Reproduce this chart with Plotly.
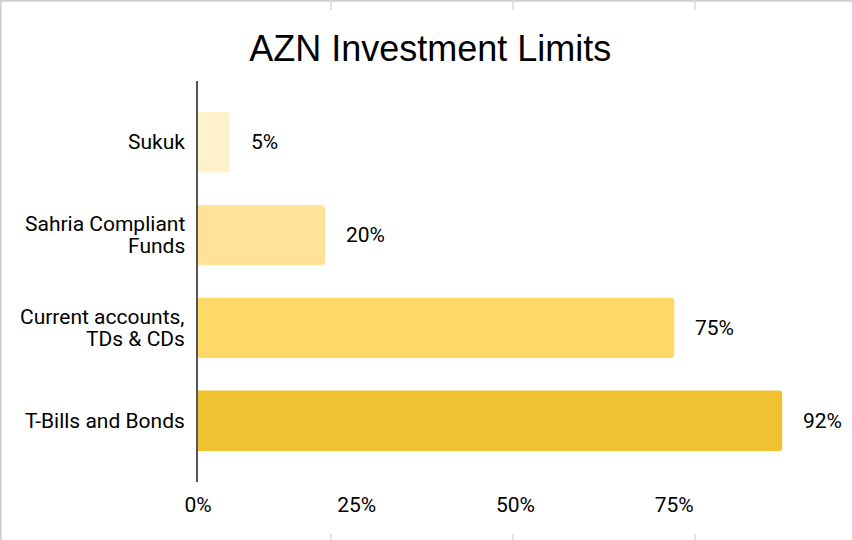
import plotly.graph_objects as go

categories = ["Sukuk", "Sahria Compliant<br>Funds", "Current accounts,<br>TDs & CDs", "T-Bills and Bonds"]
values = [5, 20, 75, 92]
labels = ["5%", "20%", "75%", "92%"]
colors = ["#FEF1CB", "#FFE498", "#FFD966", "#F0C232"]
tick_vals = [0, 25, 50, 75]
tick_text = ["0%", "25%", "50%", "75%"]

L, R, T, B = 198, 19, 81, 58
W, H = 852, 540
pw, ph = W - L - R, H - T - B
FS = 21
LINE_GAP = 22

fig = go.Figure()
fig.add_trace(go.Bar(
    y=categories, x=values, orientation="h",
    marker=dict(color=colors, line=dict(width=0), cornerradius=3),
    width=0.65, hoverinfo="skip", showlegend=False,
))

for c, v, t in zip(categories, values, labels):
    fig.add_annotation(x=v, y=c, text=t, xanchor="left", showarrow=False,
                       xshift=19, font=dict(family="Roboto", size=FS, color="#000"))

# category labels (tighter line spacing than plotly's default tick labels)
for c in categories:
    lines = c.split("<br>")
    n = len(lines)
    for i, ln in enumerate(lines):
        off = ((n - 1) / 2 - i) * LINE_GAP
        fig.add_annotation(xref="paper", x=0, y=c, text=ln, xanchor="right",
                           yanchor="middle", showarrow=False, xshift=-11, yshift=off,
                           font=dict(family="Roboto", size=FS, color="#000"))

# slide frame (left/top border) and small edge ticks
fig.add_shape(type="line", xref="paper", yref="paper",
              x0=-L / pw + 0.001, x1=-L / pw + 0.001, y0=-B / ph, y1=1 + T / ph,
              line=dict(color="#cfcfcf", width=2))
fig.add_shape(type="line", xref="paper", yref="paper",
              x0=-L / pw, x1=1 + R / pw, y0=1 + T / ph - 0.002, y1=1 + T / ph - 0.002,
              line=dict(color="#cfcfcf", width=2))
for px in [331, 513, 695]:
    xp = (px - L) / pw
    fig.add_shape(type="line", xref="paper", yref="paper",
                  x0=xp, x1=xp, y0=1 + T / ph, y1=1 + (T - 10) / ph,
                  line=dict(color="#d8d8d8", width=1.5))
    fig.add_shape(type="line", xref="paper", yref="paper",
                  x0=xp, x1=xp, y0=-B / ph, y1=-(B - 6) / ph,
                  line=dict(color="#d8d8d8", width=1.5))

fig.update_layout(
    width=W, height=H,
    margin=dict(l=L, r=R, t=T, b=B),
    paper_bgcolor="white", plot_bgcolor="white",
    title=dict(text="AZN Investment Limits", x=0.505, xanchor="center",
               y=1 - 48 / H, yanchor="middle",
               font=dict(family="Liberation Sans, Arial", size=36, color="#000")),
    xaxis=dict(range=[0, 100], tickvals=tick_vals, ticktext=tick_text,
               showgrid=False, zeroline=False, showline=False,
               ticks="outside", ticklen=4, tickcolor="rgba(0,0,0,0)",
               tickfont=dict(family="Roboto", size=FS, color="#000")),
    yaxis=dict(autorange=False, range=[3.66, -0.66], showgrid=False, zeroline=False,
               showline=True, linecolor="#555", linewidth=1.5,
               showticklabels=False, ticks=""),
)

fig.write_html("out.html", config={"displayModeBar": False},
               post_script="document.body.style.margin='0';")
